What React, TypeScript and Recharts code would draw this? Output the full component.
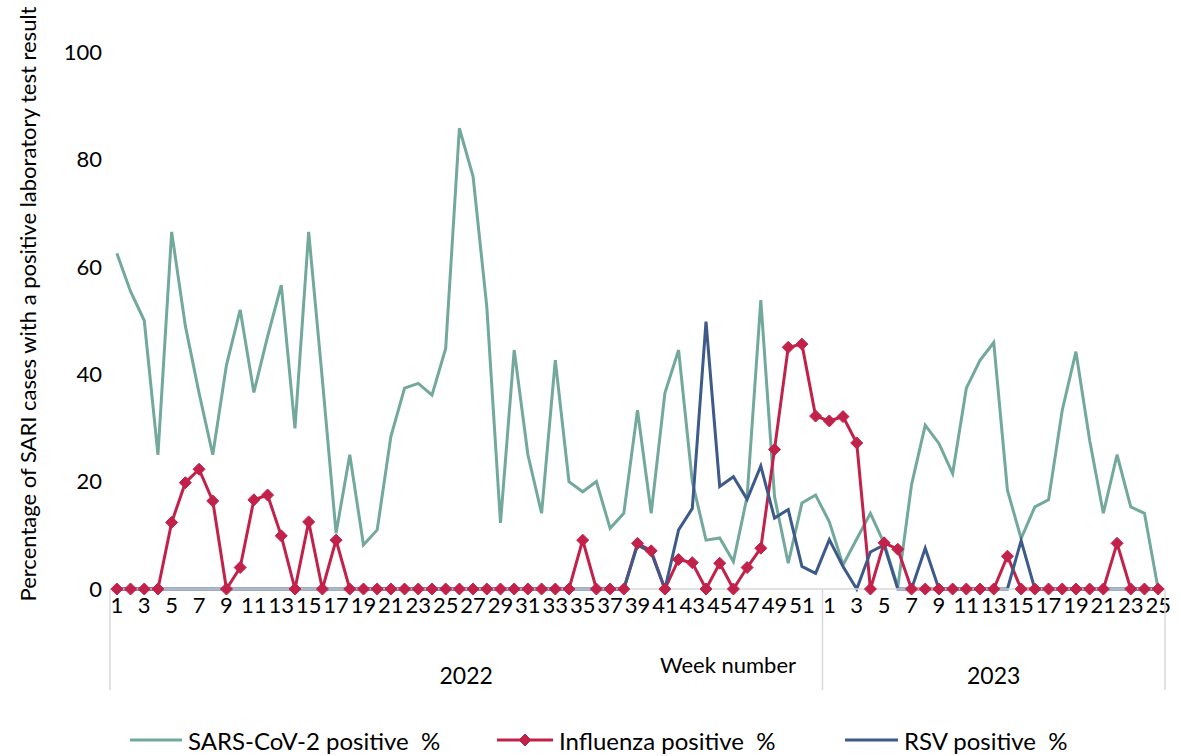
import { LineChart, Line, XAxis, YAxis, Legend, Label } from "recharts";

const weeks2022 = [
  "1", "2", "3", "4", "5", "6", "7", "8", "9", "10", "11", "12", "13", "14", "15", "16", "17", "18", "19", "20",
  "21", "22", "23", "24", "25", "26", "27", "28", "29", "30", "31", "32", "33", "34", "35", "36", "37", "38", "39", "40",
  "41", "42", "43", "44", "45", "46", "47", "48", "49", "50", "51", "52",
];
const weeks2023 = [
  "1", "2", "3", "4", "5", "6", "7", "8", "9", "10", "11", "12", "13", "14", "15", "16", "17", "18", "19", "20",
  "21", "22", "23", "24", "25",
];
const years = ["2022", "2023"];

const sars2022 = [
  62.5, 55.4, 50.0, 25.0, 66.5, 49.0, 36.5, 25.0, 41.7, 52.0,
  36.6, 47.0, 56.6, 29.9, 66.5, 39.0, 10.4, 25.0, 8.2, 11.0,
  28.4, 37.4, 38.3, 36.1, 44.8, 85.8, 76.8, 52.6, 12.3, 44.5,
  25.0, 14.1, 42.6, 20.0, 18.1, 20.0, 11.3, 14.1, 33.3, 14.1,
  36.5, 44.5, 20.0, 9.1, 9.5, 5.1, 17.2, 53.8, 17.2, 4.8,
  16.0, 17.5,
];
const sars2023 = [
  12.5, 4.5, 9.3, 14.1, 8.5, 0.4, 19.4, 30.5, 27.1, 21.5,
  37.4, 42.6, 45.9, 18.4, 9.4, 15.3, 16.6, 33.3, 44.2, 27.7,
  14.1, 25.0, 15.3, 14.1, 0,
];

const flu2022 = [
  0, 0, 0, 0, 12.4, 19.8, 22.3, 16.4, 0, 4.0,
  16.6, 17.5, 9.9, 0, 12.5, 0, 9.1, 0, 0, 0,
  0, 0, 0, 0, 0, 0, 0, 0, 0, 0,
  0, 0, 0, 0, 9.1, 0, 0, 0, 8.5, 7.1,
  0, 5.5, 4.9, 0, 4.8, 0, 4.0, 7.6, 26.0, 45.0,
  45.6, 32.2,
];
const flu2023 = [
  31.3, 32.1, 27.2, 0, 8.6, 7.4, 0, 0, 0, 0,
  0, 0, 0, 6.1, 0, 0, 0, 0, 0, 0,
  0, 8.5, 0, 0, 0,
];

const rsv2022 = [
  0, 0, 0, 0, 0, 0, 0, 0, 0, 0,
  0, 0, 0, 0, 0, 0, 0, 0, 0, 0,
  0, 0, 0, 0, 0, 0, 0, 0, 0, 0,
  0, 0, 0, 0, 0, 0, 0, 0, 8.2, 6.8,
  0, 11.0, 15.0, 49.8, 19.1, 20.9, 16.7, 22.9, 13.2, 14.8,
  4.2, 2.9,
];
const rsv2023 = [
  9.2, 4.2, 0, 6.9, 8.2, 0, 0, 7.6, 0, 0,
  0, 0, 0, 0, 9.0, 0, 0, 0, 0, 0,
  0, 0, 0, 0, 0,
];

const yTicks = [0, 20, 40, 60, 80, 100];

const SARS_COLOR = "#72a99c";
const FLU_COLOR = "#c2214a";
const RSV_COLOR = "#3d5a8a";
const FONT = "Lato, 'Open Sans', sans-serif";

const weekLabels = [...weeks2022, ...weeks2023];
const data = weekLabels.map((week, i) => ({
  idx: i,
  week,
  year: i < weeks2022.length ? years[0] : years[1],
  sars: i < weeks2022.length ? sars2022[i] : sars2023[i - weeks2022.length],
  flu: i < weeks2022.length ? flu2022[i] : flu2023[i - weeks2022.length],
  rsv: i < weeks2022.length ? rsv2022[i] : rsv2023[i - weeks2022.length],
}));

const HALF_STEP = 6.85;

const Diamond = (props: any) => {
  const { cx, cy, fill, size = 6 } = props;
  if (cx == null || cy == null) return null;
  return (
    <polygon
      points={`${cx},${cy - size} ${cx + size},${cy} ${cx},${cy + size} ${cx - size},${cy}`}
      fill={fill}
      stroke={fill}
    />
  );
};

const YearTick = (props: any) => {
  const { x, y, payload } = props;
  const i = payload.value as number;
  const last = data.length - 1;
  const firstOf2023 = weeks2022.length;
  const top = y - 58;
  const bottom = y + 43;
  const parts: any[] = [];
  if (i === 0) {
    parts.push(<line key="l0" x1={x - HALF_STEP} x2={x - HALF_STEP} y1={top} y2={bottom} stroke="#d9d9d9" strokeWidth={1.5} />);
  }
  if (i === firstOf2023) {
    parts.push(<line key="l1" x1={x - HALF_STEP} x2={x - HALF_STEP} y1={top} y2={bottom} stroke="#d9d9d9" strokeWidth={1.5} />);
  }
  if (i === last) {
    parts.push(<line key="l2" x1={x + HALF_STEP} x2={x + HALF_STEP} y1={top} y2={bottom} stroke="#d9d9d9" strokeWidth={1.5} />);
  }
  if (i === 25) {
    parts.push(
      <text key="t0" x={x + HALF_STEP} y={y + 37} textAnchor="middle" fontSize={23} fill="#000" fontFamily={FONT}>
        {years[0]}
      </text>
    );
  }
  if (i === 64) {
    parts.push(
      <text key="t1" x={x} y={y + 37} textAnchor="middle" fontSize={23} fill="#000" fontFamily={FONT}>
        {years[1]}
      </text>
    );
  }
  return <g>{parts}</g>;
};

const renderYLabel = () => (
  <text
    x={27}
    y={304}
    transform="rotate(-90, 27, 304)"
    textAnchor="middle"
    dominantBaseline="central"
    fontSize={22}
    fill="#000"
    fontFamily={FONT}
  >
    Percentage  of SARI cases with a positive laboratory test result
  </text>
);

const renderWeekLabel = (props: any) => {
  const { viewBox } = props;
  return (
    <text x={728} y={viewBox.y + 34} textAnchor="middle" fontSize={22} fill="#000" fontFamily={FONT}>
      Week number
    </text>
  );
};

const legendItems = [
  { key: "sars", name: "SARS-CoV-2 positive  %", color: SARS_COLOR, left: 130, width: 52, marker: false },
  { key: "flu", name: "Influenza positive  %", color: FLU_COLOR, left: 497, width: 56, marker: true },
  { key: "rsv", name: "RSV positive  %", color: RSV_COLOR, left: 845, width: 53, marker: false },
];

const renderLegend = () => (
  <div style={{ position: "relative", width: 1181, height: 36, fontFamily: FONT, fontSize: 24, color: "#000" }}>
    {legendItems.map((it) => (
      <div key={it.key} style={{ position: "absolute", left: it.left, top: 0, display: "flex", alignItems: "center", height: 36 }}>
        <svg width={it.width} height={16} style={{ marginRight: 6 }}>
          <line x1={0} x2={it.width} y1={8} y2={8} stroke={it.color} strokeWidth={3} />
          {it.marker && <Diamond cx={it.width / 2} cy={8} fill={it.color} size={6} />}
        </svg>
        <span style={{ whiteSpace: "pre" }}>{it.name}</span>
      </div>
    ))}
  </div>
);

export default function App() {
  return (
    <div style={{ position: "absolute", left: 0, top: 0, width: 1181, height: 756, background: "#fff" }}>
      <LineChart width={1181} height={756} data={data} margin={{ top: 52, right: 16, bottom: 0, left: 0 }}>
        <XAxis
          xAxisId="week"
          dataKey="idx"
          type="category"
          height={50}
          interval={1}
          padding={{ left: HALF_STEP, right: HALF_STEP }}
          tickLine={false}
          axisLine={{ stroke: "#d9d9d9", strokeWidth: 1.5 }}
          tick={{ fontSize: 22, fill: "#000", fontFamily: FONT }}
          tickFormatter={(v: number) => weekLabels[v]}
        />
        <XAxis
          xAxisId="year"
          dataKey="idx"
          type="category"
          height={117}
          interval={0}
          padding={{ left: HALF_STEP, right: HALF_STEP }}
          tickLine={false}
          axisLine={false}
          tick={<YearTick />}
        >
          <Label content={renderWeekLabel} />
        </XAxis>
        <YAxis
          domain={[0, 100]}
          ticks={yTicks}
          width={110}
          axisLine={false}
          tickLine={false}
          tick={{ fontSize: 22, fill: "#000", fontFamily: FONT }}
        >
          <Label content={renderYLabel} />
        </YAxis>
        <Legend
          layout="horizontal"
          verticalAlign="middle"
          content={renderLegend}
          wrapperStyle={{ position: "absolute", top: 722, left: 0, width: 1181 }}
        />
        <Line
          xAxisId="week"
          type="linear"
          dataKey="sars"
          name="SARS-CoV-2 positive  %"
          stroke={SARS_COLOR}
          strokeWidth={3}
          dot={false}
          activeDot={false}
          isAnimationActive={false}
        />
        <Line
          xAxisId="week"
          type="linear"
          dataKey="flu"
          name="Influenza positive  %"
          stroke={FLU_COLOR}
          strokeWidth={3}
          dot={(p: any) => <Diamond key={`d-${p.index}`} cx={p.cx} cy={p.cy} fill={FLU_COLOR} size={6} />}
          activeDot={false}
          isAnimationActive={false}
        />
        <Line
          xAxisId="week"
          type="linear"
          dataKey="rsv"
          name="RSV positive  %"
          stroke={RSV_COLOR}
          strokeWidth={3}
          dot={false}
          activeDot={false}
          isAnimationActive={false}
        />
      </LineChart>
    </div>
  );
}
